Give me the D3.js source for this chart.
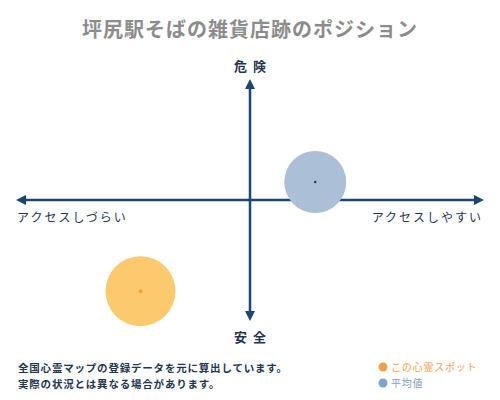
<!DOCTYPE html>
<html lang="ja">
	<head>
		<meta charset="utf-8">
		<title>ポジション</title>
		<script src="https://d3js.org/d3.v7.min.js"></script>
		<style>
			body { margin: 0; background: #fff; }
			text { font-family: "Noto Sans CJK JP", sans-serif; }
		</style>
	</head>
	<body>
		<div id="chart"></div>
		<script type="text/javascript">
		var w = 500; // 画布宽度
		var h = 400;
		var title = '坪尻駅そばの雑貨店跡のポジション'
		var axisLabels = ['危険', '安全', 'アクセスしづらい', 'アクセスしやすい']
		var seriesNames = ['この心霊スポット', '平均値']
		var accessValues = [-47, 28]   // 横: アクセス
		var dangerValues = [-76, 15]   // 縦: 危険度
		var radiusValues = [35, 31]
		var fillColors = ['#fdc96f', '#abbfd7']
		var dotColors = ['#f5a623', '#1b3a5c']
		var legendColors = ['#f0a04b', '#7fa3c6']
		var notes = ['全国心霊マップの登録データを元に算出しています。', '実際の状況とは異なる場合があります。']

		var navy = '#1d4673'
		var svg = d3.select('#chart').append('svg').attr('width', w).attr('height', h)

		var xScale = d3.scaleLinear().domain([-100, 100]).range([17, 483])
		var yScale = d3.scaleLinear().domain([-100, 100]).range([320, 80])

		/* 标题 */
		svg.append('text').attr('x', w / 2).attr('y', 37)
			.attr('text-anchor', 'middle').attr('font-size', 20).attr('font-weight', 'bold')
			.attr('fill', '#8c8c8c').attr('letter-spacing', 1)
			.text(title)

		/* 箭头 */
		var defs = svg.append('defs')
		defs.append('marker').attr('id', 'arrow')
			.attr('viewBox', '0 0 10 10').attr('refX', 5).attr('refY', 5)
			.attr('markerWidth', 4).attr('markerHeight', 4).attr('orient', 'auto-start-reverse')
			.append('path').attr('d', 'M0,0 L10,5 L0,10 z').attr('fill', navy)

		/* 坐标轴 */
		svg.append('line')
			.attr('x1', xScale(-100) + 4).attr('x2', xScale(100) - 4)
			.attr('y1', yScale(0)).attr('y2', yScale(0))
			.attr('stroke', navy).attr('stroke-width', 2.5)
			.attr('marker-start', 'url(#arrow)').attr('marker-end', 'url(#arrow)')
		svg.append('line')
			.attr('x1', xScale(0)).attr('x2', xScale(0))
			.attr('y1', yScale(100) + 4).attr('y2', yScale(-100) - 4)
			.attr('stroke', navy).attr('stroke-width', 2.5)
			.attr('marker-start', 'url(#arrow)').attr('marker-end', 'url(#arrow)')

		var labelColor = '#1f3550'
		svg.append('text').attr('x', xScale(0) + 3).attr('y', yScale(100) - 9)
			.attr('text-anchor', 'middle').attr('font-size', 13).attr('font-weight', 'bold')
			.attr('letter-spacing', 6).attr('fill', labelColor).text(axisLabels[0])
		svg.append('text').attr('x', xScale(0) + 3).attr('y', yScale(-100) + 22)
			.attr('text-anchor', 'middle').attr('font-size', 13).attr('font-weight', 'bold')
			.attr('letter-spacing', 6).attr('fill', labelColor).text(axisLabels[1])
		svg.append('text').attr('x', xScale(-100)).attr('y', yScale(0) + 22)
			.attr('text-anchor', 'start').attr('font-size', 12).attr('letter-spacing', 2)
			.attr('fill', labelColor).text(axisLabels[2])
		svg.append('text').attr('x', xScale(100)).attr('y', yScale(0) + 22)
			.attr('text-anchor', 'end').attr('font-size', 12).attr('letter-spacing', 2)
			.attr('fill', labelColor).text(axisLabels[3])

		/* 圆点 */
		var idx = [1, 0] // 平均値を先に描く
		svg.selectAll('.bubble').data(idx).enter().append('circle').attr('class', 'bubble')
			.attr('cx', i => xScale(accessValues[i]))
			.attr('cy', i => yScale(dangerValues[i]))
			.attr('r', i => radiusValues[i])
			.attr('fill', i => fillColors[i])
		svg.selectAll('.center').data(idx).enter().append('circle').attr('class', 'center')
			.attr('cx', i => xScale(accessValues[i]))
			.attr('cy', i => yScale(dangerValues[i]))
			.attr('r', i => i === 0 ? 2 : 1.2)
			.attr('fill', i => dotColors[i])

		/* 注释 */
		svg.selectAll('.note').data(notes).enter().append('text').attr('class', 'note')
			.attr('x', 18).attr('y', (d, i) => 372 + i * 16)
			.attr('font-size', 10.5).attr('font-weight', 'bold').attr('letter-spacing', 0.8)
			.attr('fill', labelColor).text(d => d)

		/* 图例 */
		var lg = svg.selectAll('.legend').data(seriesNames).enter().append('g').attr('class', 'legend')
			.attr('transform', (d, i) => 'translate(383,' + (367 + i * 16) + ')')
		lg.append('circle').attr('r', 4.5).attr('fill', (d, i) => legendColors[i])
		lg.append('text').attr('x', 8).attr('y', 4).attr('font-size', 10).attr('letter-spacing', 0.8)
			.attr('fill', (d, i) => legendColors[i]).text(d => d)
		</script>
	</body>
</html>
